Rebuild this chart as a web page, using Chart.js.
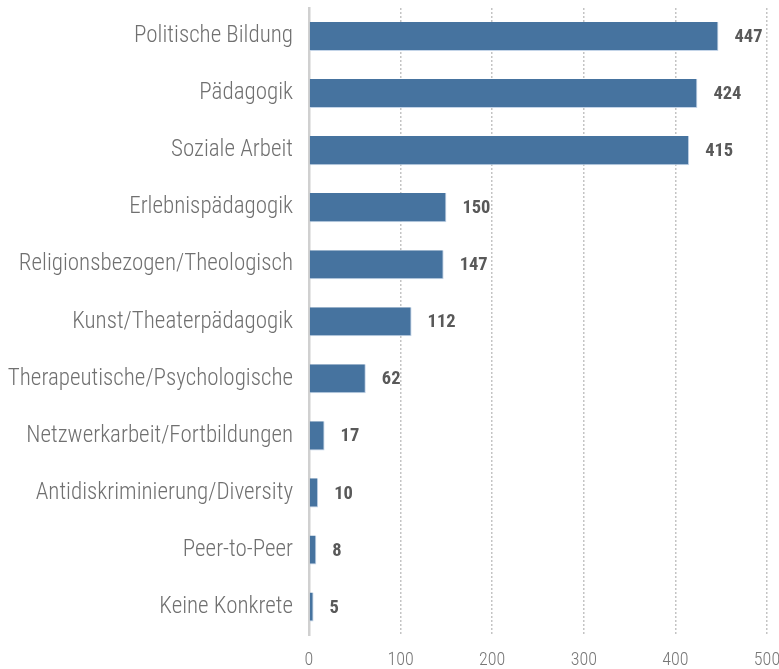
<!DOCTYPE html>
<html>
<head>
<meta charset="utf-8">
<script src="https://cdn.jsdelivr.net/npm/chart.js@4.4.1/dist/chart.umd.min.js"></script>
<style>
html,body{margin:0;padding:0;background:#fff;}
#wrap{width:779px;height:669px;position:relative;}
</style>
</head>
<body>
<div id="wrap"><canvas id="c" width="779" height="669"></canvas></div>
<script>
const categories = [
  "Politische Bildung",
  "Pädagogik",
  "Soziale Arbeit",
  "Erlebnispädagogik",
  "Religionsbezogen/Theologisch",
  "Kunst/Theaterpädagogik",
  "Therapeutische/Psychologische",
  "Netzwerkarbeit/Fortbildungen",
  "Antidiskriminierung/Diversity",
  "Peer-to-Peer",
  "Keine Konkrete"
];
const values = [447, 424, 415, 150, 147, 112, 62, 17, 10, 8, 5];
const xTicks = [0, 100, 200, 300, 400, 500];

const FONT = "'Roboto Condensed', 'Liberation Sans Narrow', 'Arial Narrow', Roboto, sans-serif";

const valueLabels = {
  id: 'valueLabels',
  afterDatasetsDraw(chart) {
    const ctx = chart.ctx;
    const meta = chart.getDatasetMeta(0);
    ctx.save();
    ctx.font = "bold 18.5px " + FONT;
    ctx.fillStyle = '#595959';
    ctx.textAlign = 'left';
    ctx.textBaseline = 'middle';
    meta.data.forEach((bar, i) => {
      ctx.fillText(String(values[i]), bar.x + 16, bar.y + 1);
    });
    ctx.restore();
  }
};

new Chart(document.getElementById('c'), {
  type: 'bar',
  data: {
    labels: categories,
    datasets: [{
      data: values,
      backgroundColor: '#46739f',
      borderColor: '#c3d4e8',
      borderWidth: {top: 0, left: 0, right: 1, bottom: 1},
      barPercentage: 0.51,
      categoryPercentage: 1.0
    }]
  },
  options: {
    indexAxis: 'y',
    responsive: false,
    animation: false,
    layout: { padding: { top: 8, right: 12, left: 0, bottom: 0 } },
    plugins: { legend: { display: false }, tooltip: { enabled: false } },
    scales: {
      x: {
        min: 0, max: 500,
        afterBuildTicks(scale) { scale.ticks = xTicks.map(v => ({ value: v })); },
        afterFit(scale) { scale.height = 33.5; scale.paddingLeft = 0; scale.paddingRight = 0; },
        grid: {
          display: true,
          drawTicks: false,
          color: (c) => c.tick && c.tick.value === 0 ? 'rgba(0,0,0,0)' : '#c4c4c4',
          lineWidth: 1.5
        },
        border: { display: false, dash: [2, 2] },
        ticks: {
          padding: 14,
          color: '#777777',
          font: { family: FONT, size: 18, weight: 300 },
          maxRotation: 0
        }
      },
      y: {
        afterFit(scale) { scale.width = 309; scale.paddingTop = 0; scale.paddingBottom = 0; },
        grid: { display: false, drawTicks: false },
        border: { display: true, color: '#d0d0d0', width: 2.5 },
        ticks: {
          padding: 16,
          color: '#707070',
          font: { family: FONT, size: 23, weight: 300 },
          autoSkip: false
        }
      }
    }
  },
  plugins: [valueLabels]
});
</script>
</body>
</html>
